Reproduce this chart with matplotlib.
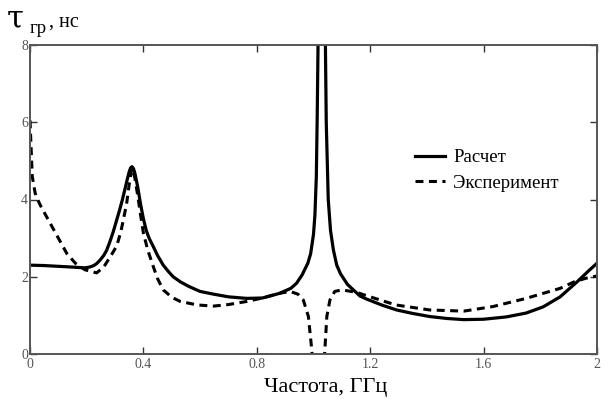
import numpy as np
import matplotlib
matplotlib.use("Agg")
import matplotlib.pyplot as plt

plt.rcParams['font.family'] = ['Liberation Serif', 'DejaVu Serif']

# Расчет (solid)
calc_f = [0, 0.05, 0.1, 0.15, 0.194, 0.21, 0.225, 0.235, 0.247, 0.26, 0.27, 0.28,
          0.293, 0.305, 0.315, 0.325, 0.335, 0.343, 0.35, 0.355, 0.36, 0.365,
          0.37, 0.38, 0.39, 0.40, 0.41, 0.42, 0.435, 0.45, 0.47, 0.49, 0.505,
          0.53, 0.56, 0.6, 0.647, 0.7, 0.764, 0.82, 0.88, 0.92, 0.94, 0.96,
          0.98, 0.99, 1.0, 1.005, 1.01, 1.013, 1.016, 1.022, 1.03, 1.038, 1.042,
          1.045, 1.052, 1.06, 1.07, 1.082, 1.095, 1.12, 1.164, 1.188, 1.24,
          1.293, 1.35, 1.41, 1.47, 1.53, 1.6, 1.68, 1.75, 1.81, 1.87, 1.93,
          1.97, 2.0]
calc_t = [2.3, 2.29, 2.27, 2.25, 2.23, 2.25, 2.29, 2.34, 2.43, 2.55, 2.68, 2.87,
          3.15, 3.45, 3.7, 3.97, 4.27, 4.52, 4.72, 4.82, 4.85, 4.8,
          4.68, 4.32, 3.88, 3.5, 3.2, 3.0, 2.78, 2.55, 2.3, 2.12, 2.0,
          1.87, 1.75, 1.62, 1.55, 1.48, 1.44, 1.45, 1.57, 1.7, 1.83, 2.05,
          2.35, 2.6, 3.1, 3.6, 4.6, 6.1, 8.0, 12, 20, 12, 8.0,
          6.0, 4.0, 3.2, 2.7, 2.3, 2.08, 1.8, 1.5, 1.42, 1.27,
          1.14, 1.05, 0.97, 0.92, 0.89, 0.9, 0.96, 1.06, 1.22, 1.48, 1.87,
          2.15, 2.35]

# Эксперимент (dashed)
exp_f = [0, 0.003, 0.008, 0.018, 0.03, 0.04, 0.07, 0.1, 0.13, 0.16, 0.194, 0.235,
         0.26, 0.29, 0.306, 0.32, 0.33, 0.341, 0.35, 0.357, 0.362, 0.37, 0.38,
         0.39, 0.4, 0.415, 0.435, 0.45, 0.47, 0.5, 0.53, 0.59, 0.647, 0.7,
         0.764, 0.82, 0.88, 0.917, 0.945, 0.964, 0.982, 0.994, 1.0, 1.017,
         1.035, 1.04, 1.047, 1.058, 1.075, 1.1, 1.15, 1.2, 1.29, 1.41, 1.53,
         1.634, 1.75, 1.87, 1.92, 1.96, 2.0]
exp_t = [6.05, 5.5, 4.6, 4.17, 3.95, 3.8, 3.4, 3.0, 2.6, 2.35, 2.18, 2.1,
         2.25, 2.6, 2.8, 3.15, 3.5, 3.9, 4.4, 4.72, 4.8, 4.55, 4.1,
         3.6, 3.13, 2.7, 2.26, 1.95, 1.66, 1.47, 1.36, 1.27, 1.24, 1.28,
         1.36, 1.45, 1.57, 1.62, 1.55, 1.4, 0.97, 0.1, -0.5, np.nan,
         -0.5, 0.1, 0.97, 1.4, 1.62, 1.66, 1.6, 1.48, 1.27, 1.14, 1.11,
         1.23, 1.44, 1.7, 1.87, 1.96, 2.02]

x_ticks = [0, 0.4, 0.8, 1.2, 1.6, 2]
x_labels = ['0', '0.4', '0.8', '1.2', '1.6', '2']
y_ticks = [0, 2, 4, 6, 8]

fig = plt.figure(figsize=(6.05, 3.99), dpi=100)
ax = fig.add_axes([30 / 605, 45 / 399, 567 / 605, 309 / 399])

ax.plot(calc_f, calc_t, color='black', lw=2.3, label='Расчет')
ax.plot(exp_f, exp_t, color='black', lw=2.2, ls=(0, (2.6, 1.8)), label='Эксперимент')

ax.set_xlim(0, 2)
ax.set_ylim(0, 8)
ax.set_xticks(x_ticks)
ax.set_xticklabels(x_labels)
ax.set_yticks(y_ticks)
ax.tick_params(direction='in', length=5, width=1, top=True, right=True,
               labelsize=10, labelcolor='#555555', color='#333333')
ax.tick_params(axis='x', pad=3)
ax.tick_params(axis='y', pad=1.5)
for s in ax.spines.values():
    s.set_color('#555555')
    s.set_linewidth(1.4)

# x axis title, sits a little right of centre in the original
fig.text(326 / 605, 1 - 392 / 399, 'Частота, ГГц', fontsize=16, ha='center')

fig.text(7 / 605, 1 - 27 / 399, 'τ', fontsize=22, family='DejaVu Serif')
fig.text(30 / 605, 1 - 33 / 399, 'гр', fontsize=13.5)
fig.text(49 / 605, 1 - 27 / 399, ', нс', fontsize=14.5)

ax.legend(loc='upper left', bbox_to_anchor=(415 / 605, 1 - 149 / 399),
          bbox_transform=fig.transFigure, frameon=False, borderpad=0,
          borderaxespad=0, fontsize=13.5, handlelength=1.6, handletextpad=0.45,
          labelspacing=0.45)

fig.savefig('out.png', dpi=100)
